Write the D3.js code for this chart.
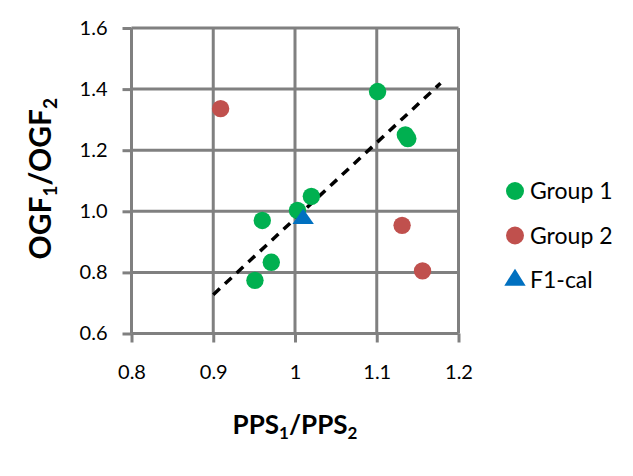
<!DOCTYPE html>
<html>
<head>
<meta charset="utf-8">
<script src="https://cdn.jsdelivr.net/npm/d3@7"></script>
<style>
  body { margin: 0; background: #fff; }
  svg { display: block; font-family: Lato, "Open Sans", sans-serif; }
</style>
</head>
<body>
<div id="chart"></div>
<script>
// Data
const xTicks = [0.8, 0.9, 1.0, 1.1, 1.2];
const xTickLabels = ["0.8", "0.9", "1", "1.1", "1.2"];
const yTicks = [0.6, 0.8, 1.0, 1.2, 1.4, 1.6];
const yTickLabels = ["0.6", "0.8", "1.0", "1.2", "1.4", "1.6"];

const group1X = [1.101, 1.135, 1.138, 1.020, 1.003, 0.960, 0.971, 0.951];
const group1Y = [1.392, 1.250, 1.238, 1.049, 1.003, 0.970, 0.833, 0.774];
const group2X = [0.909, 1.131, 1.156];
const group2Y = [1.336, 0.954, 0.805];
const calX = [1.010];
const calY = [0.975];
const trendX = [0.90, 1.178];
const trendY = [0.727, 1.419];

const seriesNames = ["Group 1", "Group 2", "F1-cal"];

const width = 633, height = 476;
const margin = { top: 28, right: 174.5, bottom: 142.5, left: 131.5 };
const gridColor = "#808080";

const svg = d3.select("#chart")
    .append("svg")
    .attr("width", width)
    .attr("height", height)
    .attr("viewBox", [0, 0, width, height]);

// Scales
const x = d3.scaleLinear()
    .domain([0.8, 1.2])
    .range([margin.left, width - margin.right]);

const y = d3.scaleLinear()
    .domain([0.6, 1.6])
    .range([height - margin.bottom, margin.top]);

const color = d3.scaleOrdinal()
    .domain(seriesNames)
    .range(["#00b050", "#c0504d", "#0070c0"]);

// Grid
svg.append("g")
    .selectAll("line")
    .data(xTicks)
    .join("line")
    .attr("x1", d => x(d))
    .attr("x2", d => x(d))
    .attr("y1", y(1.6))
    .attr("y2", y(0.6))
    .attr("stroke", gridColor)
    .attr("stroke-width", 3);

svg.append("g")
    .selectAll("line")
    .data(yTicks)
    .join("line")
    .attr("x1", x(0.8))
    .attr("x2", x(1.2))
    .attr("y1", d => y(d))
    .attr("y2", d => y(d))
    .attr("stroke", gridColor)
    .attr("stroke-width", 3);

// Axes
const xAxis = g => g
    .attr("transform", `translate(0,${y(0.6)})`)
    .call(d3.axisBottom(x)
        .tickValues(xTicks)
        .tickFormat((d, i) => xTickLabels[i])
        .tickSize(9)
        .tickPadding(22))
    .call(g => g.select(".domain").remove())
    .call(g => g.selectAll(".tick line").attr("stroke", gridColor).attr("stroke-width", 3))
    .call(g => g.selectAll(".tick text")
        .attr("fill", "#000")
        .attr("font-family", "Lato, sans-serif")
        .attr("font-size", 20));

const yAxis = g => g
    .attr("transform", `translate(${x(0.8)},0)`)
    .call(d3.axisLeft(y)
        .tickValues(yTicks)
        .tickFormat((d, i) => yTickLabels[i])
        .tickSize(9)
        .tickPadding(15))
    .call(g => g.select(".domain").remove())
    .call(g => g.selectAll(".tick line").attr("stroke", gridColor).attr("stroke-width", 3))
    .call(g => g.selectAll(".tick text")
        .attr("fill", "#000")
        .attr("font-family", "Lato, sans-serif")
        .attr("font-size", 20));

svg.append("g").call(xAxis);
svg.append("g").call(yAxis);

// Trend line
svg.append("line")
    .attr("x1", x(trendX[0]))
    .attr("y1", y(trendY[0]))
    .attr("x2", x(trendX[1]))
    .attr("y2", y(trendY[1]))
    .attr("stroke", "#000")
    .attr("stroke-width", 3.5)
    .attr("stroke-dasharray", "9,7");

// Points
const g1 = group1X.map((v, i) => ({ x: v, y: group1Y[i] }));
const g2 = group2X.map((v, i) => ({ x: v, y: group2Y[i] }));
const cal = calX.map((v, i) => ({ x: v, y: calY[i] }));

svg.append("g")
    .selectAll("circle")
    .data(g1)
    .join("circle")
    .attr("cx", d => x(d.x))
    .attr("cy", d => y(d.y))
    .attr("r", 8.7)
    .attr("fill", color("Group 1"));

svg.append("g")
    .selectAll("circle")
    .data(g2)
    .join("circle")
    .attr("cx", d => x(d.x))
    .attr("cy", d => y(d.y))
    .attr("r", 8.7)
    .attr("fill", color("Group 2"));

const tri = d3.symbol().type(d3.symbolTriangle).size(150);

svg.append("g")
    .selectAll("path")
    .data(cal)
    .join("path")
    .attr("transform", d => `translate(${x(d.x)},${y(d.y)}) scale(1.15,0.95)`)
    .attr("d", tri)
    .attr("fill", color("F1-cal"));

// Axis titles
const xTitle = svg.append("text")
    .attr("x", (x(0.8) + x(1.2)) / 2)
    .attr("y", 434)
    .attr("text-anchor", "middle")
    .attr("font-weight", "bold")
    .attr("font-size", 26)
    .attr("fill", "#000");
xTitle.append("tspan").text("PPS");
xTitle.append("tspan").attr("font-size", 17).attr("dy", 5).text("1");
xTitle.append("tspan").attr("dy", -5).text("/PPS");
xTitle.append("tspan").attr("font-size", 17).attr("dy", 5).text("2");

const yTitle = svg.append("text")
    .attr("transform", `translate(51,${(y(0.6) + y(1.6)) / 2 - 2}) rotate(-90)`)
    .attr("text-anchor", "middle")
    .attr("font-weight", "bold")
    .attr("font-size", 30)
    .attr("fill", "#000");
yTitle.append("tspan").text("OGF");
yTitle.append("tspan").attr("font-size", 19).attr("dy", 6).text("1");
yTitle.append("tspan").attr("dy", -6).text("/OGF");
yTitle.append("tspan").attr("font-size", 19).attr("dy", 6).text("2");

// Legend
const legend = svg.append("g")
    .attr("transform", "translate(515,191)");

seriesNames.forEach((name, i) => {
    const row = legend.append("g")
        .attr("transform", `translate(0,${i * 44.5})`);

    if (name === "F1-cal") {
        row.append("path")
            .attr("d", tri)
            .attr("transform", "scale(1.15,1.05)")
            .attr("fill", color(name));
    } else {
        row.append("circle")
            .attr("r", 9)
            .attr("fill", color(name));
    }

    row.append("text")
        .attr("x", 15)
        .attr("y", 0)
        .attr("dy", "0.35em")
        .attr("font-size", 23)
        .attr("fill", "#000")
        .text(name);
});
</script>
</body>
</html>
